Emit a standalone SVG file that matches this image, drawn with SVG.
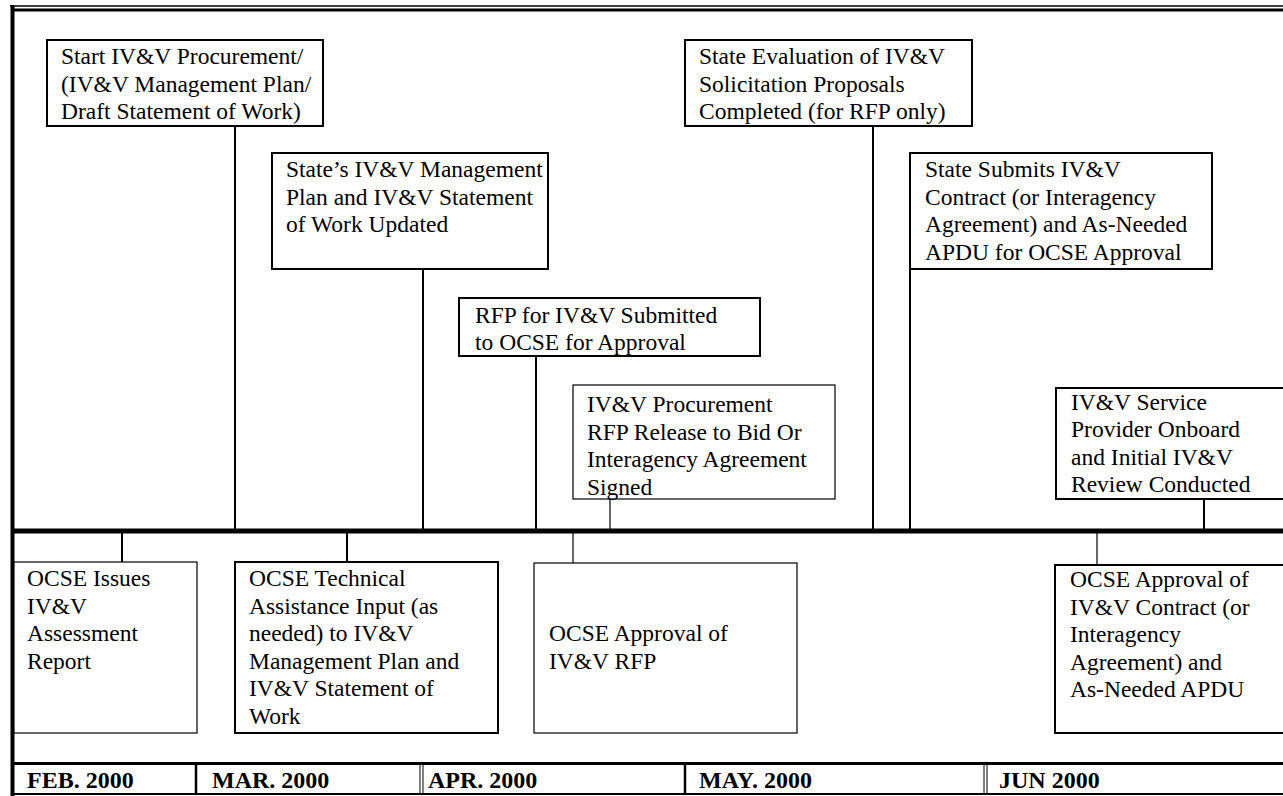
<svg xmlns="http://www.w3.org/2000/svg" width="1283" height="796" viewBox="0 0 1283 796">
<style>
text{font-family:"Liberation Serif","Times New Roman",serif;font-size:23.5px;fill:#000}
.m{font-weight:bold;font-size:24px}
.bx{fill:#fff;stroke:#000;stroke-width:2}
.bt{fill:#fff;stroke:#000;stroke-width:1.2}
.c{stroke:#000;stroke-width:2;fill:none}
.ct{stroke:#000;stroke-width:1.2;fill:none}
.f{stroke:#000;fill:none}
</style>
<rect width="1283" height="796" fill="#fff"/>
<g id="frame">
<line class="f" x1="10" y1="6" x2="1283" y2="6" stroke-width="1.5"/>
<line class="f" x1="12" y1="10" x2="1283" y2="10" stroke-width="3"/>
<line class="f" x1="12.5" y1="5" x2="12.5" y2="796" stroke-width="4"/>
<line class="f" x1="14" y1="531" x2="1283" y2="531" stroke-width="5"/>
<line class="f" x1="14" y1="763.5" x2="1283" y2="763.5" stroke-width="3"/>
<line class="f" x1="14" y1="794" x2="1283" y2="794" stroke-width="2"/>
<line class="f" x1="196" y1="763" x2="196" y2="795" stroke-width="2.5"/>
<line class="f" x1="420" y1="763" x2="420" y2="795" stroke-width="1"/>
<line class="f" x1="423" y1="763" x2="423" y2="795" stroke-width="1"/>
<line class="f" x1="685" y1="763" x2="685" y2="795" stroke-width="2.5"/>
<line class="f" x1="984" y1="763" x2="984" y2="795" stroke-width="1"/>
<line class="f" x1="987" y1="763" x2="987" y2="795" stroke-width="1"/>
</g>
<g id="months">
<text class="m" x="27" y="787.5">FEB. 2000</text>
<text class="m" x="212" y="787.5">MAR. 2000</text>
<text class="m" x="428" y="787.5">APR. 2000</text>
<text class="m" x="699" y="787.5">MAY. 2000</text>
<text class="m" x="999" y="787.5">JUN 2000</text>
</g>
<g id="connectors">
<line class="c" x1="235" y1="126" x2="235" y2="529"/>
<line class="c" x1="423" y1="269" x2="423" y2="529"/>
<line class="c" x1="536" y1="356" x2="536" y2="529"/>
<line class="ct" x1="610" y1="499" x2="610" y2="529"/>
<line class="c" x1="873" y1="126" x2="873" y2="529"/>
<line class="c" x1="910" y1="269" x2="910" y2="529"/>
<line class="c" x1="1204" y1="499" x2="1204" y2="529"/>
<line class="c" x1="122" y1="533" x2="122" y2="562"/>
<line class="c" x1="347" y1="533" x2="347" y2="562"/>
<line class="ct" x1="573" y1="533" x2="573" y2="563"/>
<line class="ct" x1="1097" y1="533" x2="1097" y2="565"/>
</g>
<g id="n1">
<rect class="bx" x="47" y="40" width="276" height="86"/>
<text x="61" y="64">Start IV&amp;V Procurement/</text>
<text x="61" y="91.5">(IV&amp;V Management Plan/</text>
<text x="61" y="119">Draft Statement of Work)</text>
</g>
<g id="n2">
<rect class="bx" x="272" y="153" width="276" height="116"/>
<text x="286" y="177">State’s IV&amp;V Management</text>
<text x="286" y="204.5">Plan and IV&amp;V Statement</text>
<text x="286" y="232">of Work Updated</text>
</g>
<g id="n3">
<rect class="bx" x="459" y="298" width="301" height="58"/>
<text x="475" y="323">RFP for IV&amp;V Submitted</text>
<text x="475" y="350">to OCSE for Approval</text>
</g>
<g id="n4">
<rect class="bt" x="573" y="385" width="262" height="114"/>
<text x="587" y="412">IV&amp;V Procurement</text>
<text x="587" y="439.5">RFP Release to Bid Or</text>
<text x="587" y="467">Interagency Agreement</text>
<text x="587" y="494.5">Signed</text>
</g>
<g id="n5">
<rect class="bx" x="685" y="40" width="287" height="86"/>
<text x="699" y="64">State Evaluation of IV&amp;V</text>
<text x="699" y="91.5">Solicitation Proposals</text>
<text x="699" y="119">Completed (for RFP only)</text>
</g>
<g id="n6">
<rect class="bx" x="910" y="153" width="302" height="116"/>
<text x="925" y="177">State Submits IV&amp;V</text>
<text x="925" y="204.5">Contract (or Interagency</text>
<text x="925" y="232">Agreement) and As-Needed</text>
<text x="925" y="259.5">APDU for OCSE Approval</text>
</g>
<g id="n7">
<rect class="bx" x="1056" y="388" width="240" height="111"/>
<text x="1071" y="409.5">IV&amp;V Service</text>
<text x="1071" y="437">Provider Onboard</text>
<text x="1071" y="464.5">and Initial IV&amp;V</text>
<text x="1071" y="492">Review Conducted</text>
</g>
<g id="n8">
<rect class="bt" x="14" y="562" width="183" height="171"/>
<text x="27" y="586">OCSE Issues</text>
<text x="27" y="613.5">IV&amp;V</text>
<text x="27" y="641">Assessment</text>
<text x="27" y="668.5">Report</text>
</g>
<g id="n9">
<rect class="bx" x="235" y="562" width="263" height="171"/>
<text x="249" y="586">OCSE Technical</text>
<text x="249" y="613.5">Assistance Input (as</text>
<text x="249" y="641">needed) to IV&amp;V</text>
<text x="249" y="668.5">Management Plan and</text>
<text x="249" y="696">IV&amp;V Statement of</text>
<text x="249" y="723.5">Work</text>
</g>
<g id="n10">
<rect class="bt" x="534" y="563" width="263" height="170"/>
<text x="549" y="641">OCSE Approval of</text>
<text x="549" y="668.5">IV&amp;V RFP</text>
</g>
<g id="n11">
<rect class="bx" x="1055" y="565" width="240" height="168"/>
<text x="1070" y="587">OCSE Approval of</text>
<text x="1070" y="614.5">IV&amp;V Contract (or</text>
<text x="1070" y="642">Interagency</text>
<text x="1070" y="669.5">Agreement) and</text>
<text x="1070" y="697">As-Needed APDU</text>
</g>
</svg>
